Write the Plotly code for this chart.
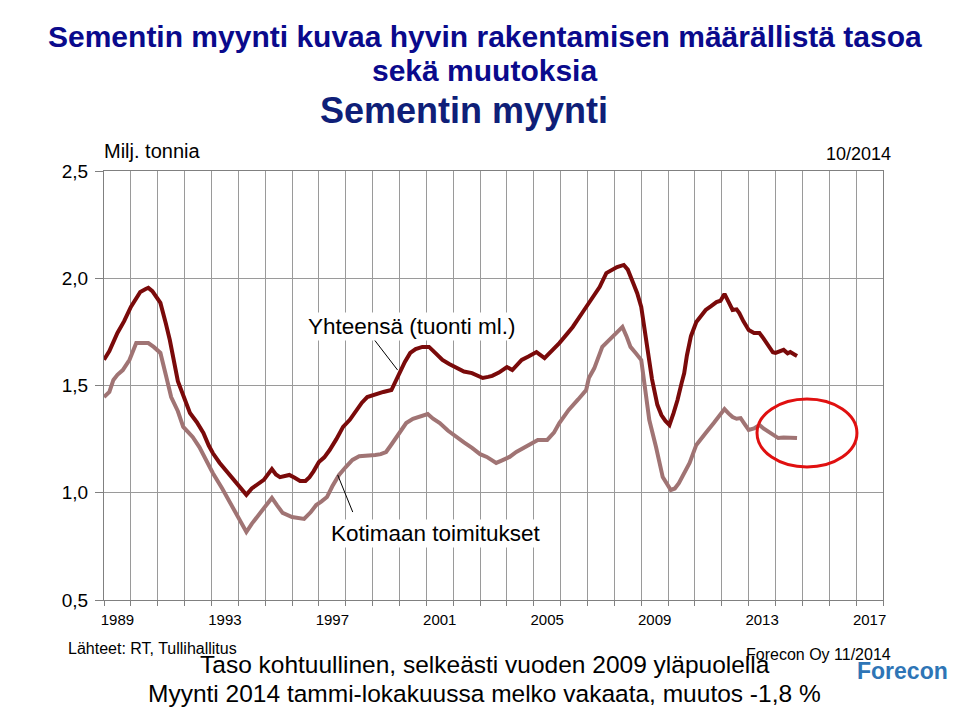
import plotly.graph_objects as go

# %%
# Sementin myynti, liukuva 12 kk summa (milj. tonnia), luettu kuvasta
total_t = [1989.0, 1989.2, 1989.5, 1989.75, 1990.0, 1990.35, 1990.55, 1990.65, 1990.8, 1991.1,
           1991.3, 1991.45, 1991.75, 1992.0, 1992.2, 1992.45, 1992.7, 1992.9, 1993.05, 1993.3,
           1993.5, 1993.7, 1994.0, 1994.3, 1994.5, 1994.7, 1994.95, 1995.25, 1995.4, 1995.55,
           1995.9, 1996.1, 1996.3, 1996.5, 1996.65, 1996.8, 1997.0, 1997.2, 1997.4, 1997.65,
           1997.9, 1998.15, 1998.4, 1998.6, 1998.8, 1999.1, 1999.4, 1999.7, 1999.85, 2000.0,
           2000.2, 2000.4, 2000.6, 2000.85, 2001.1, 2001.35, 2001.6, 2001.85, 2002.1, 2002.4,
           2002.7, 2002.9, 2003.1, 2003.3, 2003.45, 2003.7, 2004.0, 2004.2, 2004.55, 2004.8,
           2005.1, 2005.4, 2005.7, 2005.95, 2006.2, 2006.45, 2006.8, 2007.05, 2007.3, 2007.45,
           2007.7, 2007.9, 2008.1, 2008.35, 2008.5, 2008.7, 2008.85, 2009.0, 2009.2, 2009.4,
           2009.6, 2009.75, 2009.9, 2010.05, 2010.2, 2010.35, 2010.5, 2010.6, 2010.7, 2010.85,
           2011.05, 2011.2, 2011.4, 2011.6, 2011.8, 2011.95, 2012.1, 2012.25, 2012.4, 2012.55,
           2012.65, 2012.8, 2013.0, 2013.2, 2013.4, 2013.55, 2013.75, 2013.9, 2014.0, 2014.15,
           2014.3, 2014.45, 2014.55, 2014.7, 2014.8]
total_v = [1.62, 1.66, 1.745, 1.80, 1.866, 1.936, 1.95, 1.955, 1.94, 1.885,
           1.79, 1.712, 1.52, 1.43, 1.372, 1.33, 1.279, 1.22, 1.185, 1.14,
           1.11, 1.073, 1.035, 0.99, 1.02, 1.036, 1.06, 1.11, 1.085, 1.073,
           1.083, 1.07, 1.055, 1.055, 1.073, 1.10, 1.143, 1.165, 1.199, 1.25,
           1.307, 1.34, 1.386, 1.42, 1.446, 1.46, 1.47, 1.479, 1.52, 1.563,
           1.61, 1.652, 1.67, 1.68, 1.68, 1.65, 1.619, 1.60, 1.582, 1.565,
           1.558, 1.545, 1.535, 1.54, 1.545, 1.56, 1.586, 1.572, 1.619, 1.635,
           1.656, 1.628, 1.665, 1.698, 1.735, 1.773, 1.838, 1.885, 1.93, 1.959,
           2.024, 2.04, 2.052, 2.062, 2.04, 1.978, 1.93, 1.866, 1.712, 1.53,
           1.41, 1.362, 1.335, 1.316, 1.37, 1.432, 1.51, 1.558, 1.64, 1.73,
           1.796, 1.82, 1.852, 1.87, 1.889, 1.895, 1.927, 1.89, 1.852, 1.855,
           1.838, 1.80, 1.759, 1.745, 1.745, 1.72, 1.68, 1.655, 1.652, 1.66,
           1.666, 1.65, 1.656, 1.645, 1.638]

domestic_t = [1989.0, 1989.2, 1989.35, 1989.5, 1989.7, 1989.95, 1990.2, 1990.45, 1990.65, 1990.85,
              1991.1, 1991.3, 1991.5, 1991.75, 1991.95, 1992.15, 1992.3, 1992.55, 1992.8, 1993.05,
              1993.4, 1993.7, 1994.0, 1994.3, 1994.5, 1994.7, 1994.95, 1995.25, 1995.45, 1995.65,
              1996.0, 1996.2, 1996.45, 1996.7, 1996.9, 1997.1, 1997.3, 1997.5, 1997.75, 1998.0,
              1998.25, 1998.5, 1998.75, 1999.1, 1999.3, 1999.5, 1999.7, 1999.9, 2000.1, 2000.25,
              2000.5, 2000.75, 2001.05, 2001.25, 2001.5, 2001.8, 2002.1, 2002.4, 2002.7, 2003.0,
              2003.25, 2003.6, 2003.8, 2004.1, 2004.35, 2004.6, 2004.9, 2005.15, 2005.5, 2005.75,
              2005.95, 2006.3, 2006.65, 2006.95, 2007.05, 2007.25, 2007.55, 2007.9, 2008.1, 2008.3,
              2008.45, 2008.6, 2008.8, 2009.0, 2009.05, 2009.3, 2009.55, 2009.8, 2010.1, 2010.25,
              2010.4, 2010.6, 2010.8, 2011.05, 2011.2, 2011.4, 2011.7, 2011.9, 2012.1, 2012.25,
              2012.4, 2012.55, 2012.7, 2012.85, 2013.0, 2013.2, 2013.4, 2013.55, 2013.75, 2013.9,
              2014.1, 2014.3, 2014.5, 2014.65, 2014.8]
domestic_v = [1.446, 1.47, 1.526, 1.55, 1.572, 1.62, 1.698, 1.70, 1.698, 1.68,
              1.652, 1.55, 1.446, 1.38, 1.307, 1.28, 1.26, 1.213, 1.15, 1.092,
              1.02, 0.952, 0.88, 0.817, 0.855, 0.887, 0.93, 0.976, 0.94, 0.906,
              0.887, 0.885, 0.878, 0.91, 0.943, 0.96, 0.98, 1.03, 1.083, 1.12,
              1.153, 1.17, 1.171, 1.176, 1.18, 1.19, 1.225, 1.26, 1.30, 1.325,
              1.345, 1.353, 1.367, 1.345, 1.325, 1.29, 1.26, 1.235, 1.209, 1.18,
              1.167, 1.139, 1.15, 1.167, 1.19, 1.209, 1.23, 1.246, 1.246, 1.28,
              1.325, 1.386, 1.435, 1.479, 1.535, 1.58, 1.68, 1.726, 1.75, 1.773,
              1.73, 1.68, 1.65, 1.619, 1.572, 1.339, 1.213, 1.073, 1.013, 1.02,
              1.045, 1.09, 1.139, 1.223, 1.25, 1.279, 1.325, 1.36, 1.39, 1.37,
              1.353, 1.345, 1.348, 1.32, 1.293, 1.30, 1.316, 1.30, 1.283, 1.27,
              1.255, 1.258, 1.255, 1.255, 1.255]

year_labels = [1989, 1993, 1997, 2001, 2005, 2009, 2013, 2017]

# %%
fig = go.Figure()
fig.add_trace(go.Scatter(x=domestic_t, y=domestic_v, mode="lines",
                         line=dict(color="#A07474", width=4), name="Kotimaan toimitukset"))
fig.add_trace(go.Scatter(x=total_t, y=total_v, mode="lines",
                         line=dict(color="#7A0A0A", width=4), name="Yhteensä (tuonti ml.)"))

# plot area in pixels: x 104..883, y 171..600
def px(x):
    return (x - 104) / 779

def py(y):
    return (600 - y) / 429

font = "Liberation Sans, Arial, sans-serif"
notes = [
    ("Sementin myynti kuvaa hyvin rakentamisen määrällistä tasoa", 485, 36, 30, "#0A0A8C", True, "center"),
    ("sekä muutoksia", 484, 71, 30, "#0A0A8C", True, "center"),
    ("Sementin myynti", 464, 110, 36, "#0F1F78", True, "center"),
    ("Milj. tonnia", 102, 151, 20, "black", False, "left"),
    ("10/2014", 893, 154, 18, "black", False, "right"),
    ("Lähteet: RT, Tullihallitus", 66, 648, 16, "black", False, "left"),
    ("Forecon Oy 11/2014", 893, 654, 16, "black", False, "right"),
    ("Taso kohtuullinen, selkeästi vuoden 2009 yläpuolella", 485, 664, 24.5, "black", False, "center"),
    ("Myynti 2014 tammi-lokakuussa melko vakaata, muutos -1,8 %", 484, 693, 24.5, "black", False, "center"),
    ("Forecon", 902, 671, 23, "#2E75B6", True, "center"),
]
for text, x, y, size, color, bold, anchor in notes:
    fig.add_annotation(
        text=f"<b>{text}</b>" if bold else text,
        x=px(x), y=py(y), xref="paper", yref="paper",
        xanchor=anchor, yanchor="middle", showarrow=False,
        font=dict(family=font, size=size, color=color),
    )

# series labels with white boxes and pointer lines
fig.add_annotation(text="Yhteensä (tuonti ml.)", x=2000.45, y=1.775, showarrow=False,
                   bgcolor="white", font=dict(family=font, size=22.5, color="black"))
fig.add_annotation(text="Kotimaan toimitukset", x=2001.36, y=0.812, showarrow=False,
                   bgcolor="white", font=dict(family=font, size=22.5, color="black"))
fig.add_shape(type="line", x0=1999.07, y0=1.712, x1=1999.93, y1=1.572,
              line=dict(color="black", width=1))
fig.add_shape(type="line", x0=1997.7, y0=1.083, x1=1998.26, y1=0.91,
              line=dict(color="black", width=1))

# red circle round the latest values
fig.add_shape(type="circle", x0=2013.31, x1=2017.03, y0=1.12, y1=1.437,
              line=dict(color="#E01010", width=3))

fig.update_layout(
    width=960, height=707,
    margin=dict(l=104, r=77, t=171, b=107),
    plot_bgcolor="white", paper_bgcolor="white",
    showlegend=False, separators=", ",
    font=dict(family=font, color="black"),
)
fig.update_xaxes(
    range=[1989, 2018],
    tickvals=[y + 0.5 for y in year_labels], ticktext=[str(y) for y in year_labels],
    ticks="", showgrid=False, ticklabelstandoff=6,
    minor=dict(tick0=1989, dtick=1, showgrid=True, gridcolor="#9A9A9A", gridwidth=1,
               ticks="outside", ticklen=5, tickcolor="#808080"),
    showline=True, linecolor="#808080", linewidth=1, mirror=True,
    tickfont=dict(size=15), zeroline=False,
)
fig.update_yaxes(
    range=[0.5, 2.5], dtick=0.5, tickformat=".1f",
    ticks="outside", ticklen=8, tickcolor="#808080", ticklabelstandoff=3,
    showgrid=True, gridcolor="#9A9A9A", gridwidth=1,
    showline=True, linecolor="#808080", linewidth=1, mirror=True,
    tickfont=dict(size=19), zeroline=False,
)

fig.write_html("out.html", config={"displayModeBar": False},
               post_script="document.body.style.margin='0';")
